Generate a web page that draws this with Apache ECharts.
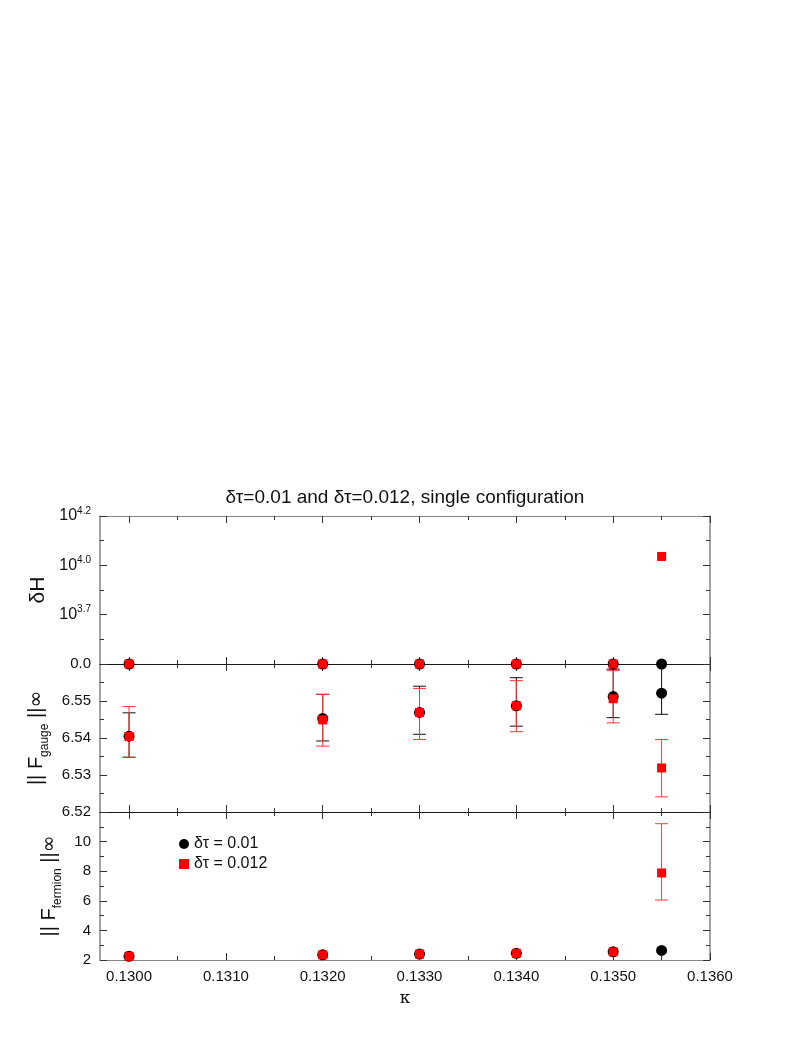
<!DOCTYPE html>
<html>
<head>
<meta charset="utf-8">
<script src="https://cdn.jsdelivr.net/npm/echarts@6/dist/echarts.min.js"></script>
<style>
  html, body { margin: 0; background: #fff; }
  #chart { width: 810px; height: 1048px; }
</style>
</head>
<body>
<div id="chart"></div>
<script>
// kappa values shared by all three panels
const kappa = [0.1300, 0.1320, 0.1330, 0.1340, 0.1350, 0.1355];

// top panel: dH, plotted on the broken axis (0 = "0.0", 1 = 10^3.7, 2 = 10^4.0, 3 = 10^4.2)
const dHTickLabels = ['0.0', '10^3.7', '10^4.0', '10^4.2'];
const dHBlack = [0, 0, 0, 0, 0, 0];
const dHRed = [0, 0, 0, 0, 0, 2.18];

// middle panel: || F_gauge ||_inf with error bars
const gaugeBlack = [6.5405, 6.5453, 6.5469, 6.5487, 6.5512, 6.5521];
const gaugeBlackLo = [6.5348, 6.5392, 6.5410, 6.5432, 6.5455, 6.5464];
const gaugeBlackHi = [6.5468, 6.5518, 6.5540, 6.5563, 6.5586, 6.5640];
const gaugeRed = [6.5404, 6.5449, 6.5469, 6.5487, 6.5506, 6.5319];
const gaugeRedLo = [6.5348, 6.5378, 6.5396, 6.5417, 6.5441, 6.5241];
const gaugeRedHi = [6.5485, 6.5518, 6.5534, 6.5555, 6.5582, 6.5396];

// bottom panel: || F_fermion ||_inf
const fermBlack = [2.25, 2.35, 2.40, 2.45, 2.55, 2.65];
const fermRed = [2.25, 2.35, 2.40, 2.45, 2.55, 7.88];
const fermRedLo = [2.25, 2.35, 2.40, 2.45, 2.55, 6.05];
const fermRedHi = [2.25, 2.35, 2.40, 2.45, 2.55, 11.21];

const xMajor = [0.1300, 0.1310, 0.1320, 0.1330, 0.1340, 0.1350, 0.1360];
const xMinor = [0.1305, 0.1315, 0.1325, 0.1335, 0.1345, 0.1355];

const FONT = 'Liberation Sans, Arial, sans-serif';
const FRAME = '#858585';
const DARK = '#1a1a1a';

const chart = echarts.init(document.getElementById('chart'));

const zip = (a, b) => a.map((v, i) => [v, b[i]]);
const zip3 = (a, b, c) => a.map((v, i) => [v, b[i], c[i]]);

// error bars as custom series, clipped to the panel
function errBars(color) {
  return function (params, api) {
    const x = api.value(0), lo = api.value(1), hi = api.value(2);
    if (lo === hi) return;
    const cs = params.coordSys;
    const pLo = api.coord([x, lo]);
    const pHi = api.coord([x, hi]);
    const top = Math.max(pHi[1], cs.y);
    const bot = Math.min(pLo[1], cs.y + cs.height);
    const st = { stroke: color, lineWidth: 1 };
    const kids = [{ type: 'line', shape: { x1: pLo[0], y1: top, x2: pLo[0], y2: bot }, style: st }];
    if (pHi[1] >= cs.y) kids.push({ type: 'line', shape: { x1: pHi[0] - 6.5, y1: pHi[1], x2: pHi[0] + 6.5, y2: pHi[1] }, style: st });
    if (pLo[1] <= cs.y + cs.height) kids.push({ type: 'line', shape: { x1: pLo[0] - 6.5, y1: pLo[1], x2: pLo[0] + 6.5, y2: pLo[1] }, style: st });
    return { type: 'group', children: kids };
  };
}

const grids = [516, 664, 812].map(t => ({ left: 100, width: 610, top: t, height: 148, show: false }));

const xAxes = [];
for (let g = 0; g < 3; g++) {
  const base = { gridIndex: g, type: 'value', min: 0.1297, max: 0.1360, splitLine: { show: false } };
  // bottom, major ticks (+ labels on the last panel)
  xAxes.push(Object.assign({}, base, {
    position: 'bottom',
    axisLine: { show: true, onZero: false, lineStyle: { color: g === 2 ? FRAME : DARK, width: 1.2 } },
    axisTick: { inside: true, length: 7, customValues: xMajor, lineStyle: { color: '#333' } },
    axisLabel: { show: g === 2, customValues: xMajor, margin: 9, fontFamily: FONT, fontSize: 15, color: '#111',
      formatter: v => v.toFixed(4) },
    name: g === 2 ? 'κ' : '', nameLocation: 'middle', nameGap: 30,
    nameTextStyle: { fontFamily: 'DejaVu Serif, serif', fontSize: 17, color: '#111' }
  }));
  // top, major ticks
  xAxes.push(Object.assign({}, base, {
    position: 'top',
    axisLine: { show: true, onZero: false, lineStyle: { color: g === 0 ? FRAME : DARK, width: 1.2 } },
    axisTick: { inside: true, length: 7, customValues: xMajor, lineStyle: { color: '#333' } },
    axisLabel: { show: false }
  }));
  // minor ticks, both edges
  ['bottom', 'top'].forEach(p => xAxes.push(Object.assign({}, base, {
    position: p,
    axisLine: { show: false, onZero: false },
    axisTick: { inside: true, length: 4, customValues: xMinor, lineStyle: { color: '#333' } },
    axisLabel: { show: false }
  })));
}

const sub = { fontFamily: FONT, fontSize: 12, lineHeight: 28, verticalAlign: 'bottom', color: '#111' };
const nrm = { fontFamily: FONT, fontSize: 20, lineHeight: 28, color: '#111' };

const yCfg = [
  { min: 0, max: 3, interval: 1, name: 'δH', gap: 43,
    fmt: v => {
      const s = dHTickLabels[Math.round(v)];
      if (s.indexOf('^') < 0) return s;
      const parts = s.split('^');
      return '{b|' + parts[0] + '}{p|' + parts[1] + '}';
    } },
  { min: 6.52, max: 6.56, interval: 0.01, name: '{n||| F}{s|gauge}{n| ||}{i|∞}', gap: 39,
    fmt: v => v.toFixed(2) },
  { min: 2, max: 12, interval: 2, name: '{n||| F}{s|fermion}{n| ||}{i|∞}', gap: 18,
    fmt: v => String(Math.round(v)) }
];

const yAxes = [];
yCfg.forEach((c, g) => {
  const base = {
    gridIndex: g, type: 'value', min: c.min, max: c.max, interval: c.interval,
    splitLine: { show: false },
    axisLine: { show: true, onZero: false, lineStyle: { color: FRAME, width: 1.5 } },
    axisTick: { inside: true, length: 7, lineStyle: { color: '#333' } },
    minorTick: { show: true, splitNumber: 2, length: 4, lineStyle: { color: '#333' } }
  };
  yAxes.push(Object.assign({}, base, {
    position: 'left',
    axisLabel: {
      show: true, margin: 9, fontFamily: FONT, fontSize: 15, color: '#111',
      showMaxLabel: g === 0, formatter: c.fmt,
      rich: {
        b: { fontFamily: FONT, fontSize: 16, lineHeight: 20, color: '#111' },
        p: { fontFamily: FONT, fontSize: 10, lineHeight: 20, verticalAlign: 'top', color: '#111' }
      }
    },
    name: c.name, nameLocation: 'middle', nameRotate: 90, nameGap: c.gap,
    nameTextStyle: {
      fontFamily: FONT, fontSize: 21, color: '#111',
      rich: { n: nrm, s: sub, i: { fontFamily: 'DejaVu Sans, sans-serif', fontSize: 20, lineHeight: 28, color: '#111' } }
    }
  }));
  yAxes.push(Object.assign({}, base, { position: 'right', axisLabel: { show: false } }));
});

// axis indices: each grid g has x axes 4g..4g+3 and y axes 2g, 2g+1
const series = [];
function addPanel(g, blk, red, blkErr, redErr) {
  const xi = 4 * g, yi = 2 * g;
  if (blkErr) series.push({ type: 'custom', xAxisIndex: xi, yAxisIndex: yi, z: 2, silent: true,
    renderItem: errBars('#111'), data: blkErr, encode: { x: 0, y: [1, 2] } });
  if (redErr) series.push({ type: 'custom', xAxisIndex: xi, yAxisIndex: yi, z: 3, silent: true,
    renderItem: errBars('#ff3535'), data: redErr, encode: { x: 0, y: [1, 2] } });
  series.push({ type: 'scatter', name: 'δτ = 0.01', xAxisIndex: xi, yAxisIndex: yi, z: 4,
    symbol: 'circle', symbolSize: 11, itemStyle: { color: '#000', opacity: 1 }, clip: false, data: blk });
  series.push({ type: 'scatter', name: 'δτ = 0.012', xAxisIndex: xi, yAxisIndex: yi, z: 5,
    symbol: 'rect', symbolSize: 9, itemStyle: { color: '#ff0000', opacity: 1 }, clip: false, data: red });
}
addPanel(0, zip(kappa, dHBlack), zip(kappa, dHRed), null, null);
addPanel(1, zip(kappa, gaugeBlack), zip(kappa, gaugeRed),
  zip3(kappa, gaugeBlackLo, gaugeBlackHi), zip3(kappa, gaugeRedLo, gaugeRedHi));
addPanel(2, zip(kappa, fermBlack), zip(kappa, fermRed), null, zip3(kappa, fermRedLo, fermRedHi));

chart.setOption({
  animation: false,
  backgroundColor: '#fff',
  title: {
    text: 'δτ=0.01 and δτ=0.012, single configuration',
    left: 'center', top: 483,
    textStyle: { fontFamily: FONT, fontSize: 19, fontWeight: 'normal', color: '#111' }
  },
  legend: {
    orient: 'vertical', left: 174, top: 831, itemGap: 4, itemWidth: 10, itemHeight: 10,
    data: [{ name: 'δτ = 0.01', icon: 'circle' }, { name: 'δτ = 0.012', icon: 'rect' }],
    textStyle: { fontFamily: FONT, fontSize: 16, lineHeight: 15, color: '#111' }
  },
  grid: grids,
  xAxis: xAxes,
  yAxis: yAxes,
  series: series
});
</script>
</body>
</html>
